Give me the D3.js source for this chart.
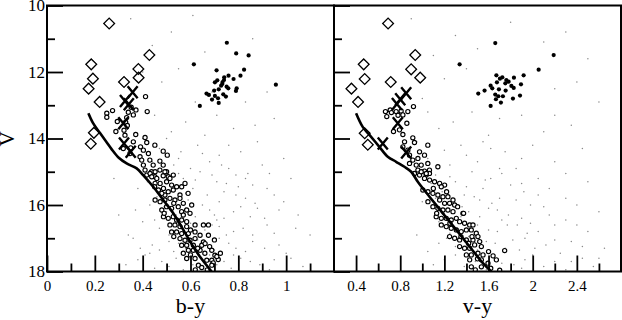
<!DOCTYPE html>
<html>
<head>
<meta charset="utf-8">
<script src="https://cdn.jsdelivr.net/npm/d3@7"></script>
<style>
  body { margin: 0; background: #fff; }
  svg { display: block; }
  text { font-family: "Liberation Serif", "DejaVu Serif", serif; fill: #000; }
</style>
</head>
<body>
<svg width="622" height="320"></svg>
<script>
// magnitude axis
var vTicks = [10, 12, 14, 16, 18];
var vMinor = [11, 13, 15, 17];
// colour axes
var byTicks = [0, 0.2, 0.4, 0.6, 0.8, 1];
var byMinor = [0.1, 0.3, 0.5, 0.7, 0.9, 1.1];
var vyTicks = [0.4, 0.8, 1.2, 1.6, 2, 2.4];
var vyMinor = [0.6, 1.0, 1.4, 1.8, 2.2, 2.6];

// field stars [colour, V]
var fieldBY = [[0.35,10.4],[0.52,10.8],[0.61,10.3],[0.44,11.2],[0.66,11.4],[0.86,11.0],[0.55,11.9],[0.48,12.3],[0.92,12.6],[0.62,12.9],
  [0.83,12.9],[0.45,13.3],[0.58,13.5],[0.71,13.3],[0.95,13.4],[0.52,13.8],[0.66,13.9],[0.78,13.7],[0.40,14.0],[0.88,14.1],
  [0.47,14.3],[0.56,14.4],[0.63,14.2],[0.72,14.5],[0.81,14.4],[0.99,14.6],[0.44,14.7],[0.53,14.8],[0.60,14.9],[0.68,14.7],
  [0.76,14.9],[0.90,14.8],[0.49,15.1],[0.57,15.2],[0.64,15.0],[0.71,15.3],[0.79,15.1],[0.86,15.4],[1.02,15.2],[0.38,15.5],
  [0.52,15.6],[0.61,15.5],[0.67,15.7],[0.74,15.6],[0.83,15.8],[0.95,15.7],[0.43,16.0],[0.50,16.2],[0.58,16.1],[0.65,16.0],
  [0.70,16.3],[0.78,16.2],[0.88,16.1],[1.05,16.3],[0.40,16.5],[0.47,16.7],[0.55,16.6],[0.62,16.8],[0.69,16.6],[0.75,16.9],
  [0.82,16.7],[0.92,16.6],[1.10,16.9],[0.36,17.0],[0.44,17.2],[0.51,17.1],[0.58,17.3],[0.66,17.2],[0.72,17.0],[0.79,17.3],
  [0.86,17.1],[0.97,17.2],[0.41,17.5],[0.48,17.7],[0.54,17.6],[0.61,17.8],[0.68,17.5],[0.74,17.7],[0.81,17.6],[0.89,17.8],
  [1.02,17.6],[0.33,17.8],[0.45,17.9],[0.57,17.95],[0.77,17.9],[0.93,17.95],[0.30,16.3],[0.28,15.2],[0.34,16.9],[0.63,17.45],
  [0.71,16.45],[0.59,15.85],[0.80,15.45],[0.53,17.4],[0.85,16.35],
  [0.42,15.3],[0.55,15.05],[0.62,15.25],[0.69,15.1],[0.75,15.35],[0.83,15.2],[0.92,15.5],[0.46,15.75],[0.58,15.65],[0.72,15.9],
  [0.79,15.7],[0.87,15.95],[0.99,15.9],[0.37,16.15],[0.54,16.3],[0.62,16.35],[0.68,16.15],[0.74,16.4],[0.81,16.05],[0.91,16.4],
  [0.97,16.15],[0.45,16.45],[0.51,16.9],[0.66,16.75],[0.72,16.65],[0.78,16.8],[0.86,16.9],[0.95,16.85],[1.04,16.7],[0.39,17.3],
  [0.47,17.35],[0.55,17.15],[0.63,17.05],[0.70,17.35],[0.76,17.15],[0.83,17.4],[0.91,17.3],[1.00,17.45],[0.38,17.65],[0.51,17.85],
  [0.58,17.55],[0.65,17.85],[0.71,17.8],[0.78,17.5],[0.85,17.7],[0.95,17.65],[1.07,17.85],[0.43,17.45],[0.49,16.05],[0.60,16.55],
  [0.84,15.05],[0.73,14.8],[0.65,14.45],[0.55,14.6],[0.93,15.05],[0.76,14.2],[0.50,14.0],[0.87,13.6],[0.69,12.6],[0.40,12.0]];
var fieldVY = [[0.9,10.4],[1.3,10.9],[1.8,10.5],[2.3,10.8],[1.1,11.5],[1.5,11.3],[2.5,11.6],[1.2,12.2],[2.2,12.5],[2.6,12.9],
  [1.0,12.8],[1.45,13.2],[1.9,13.3],[2.35,13.6],[1.15,13.7],[1.6,13.9],[2.1,13.8],[0.95,14.1],[1.35,14.2],[1.75,14.4],
  [2.45,14.3],[1.05,14.6],[1.25,14.8],[1.5,14.7],[1.85,14.9],[2.2,14.7],[1.12,15.1],[1.3,15.3],[1.45,15.0],[1.62,15.2],
  [1.8,15.4],[2.05,15.2],[2.5,15.3],[1.18,15.6],[1.38,15.7],[1.55,15.5],[1.7,15.8],[1.92,15.6],[2.3,15.8],[1.25,16.0],
  [1.42,16.2],[1.6,16.1],[1.78,16.3],[1.98,16.0],[2.15,16.3],[2.6,16.2],[1.15,16.5],[1.32,16.7],[1.5,16.6],[1.68,16.8],
  [1.86,16.6],[2.05,16.8],[2.4,16.6],[1.22,17.0],[1.4,17.2],[1.58,17.1],[1.75,17.3],[1.93,17.0],[2.12,17.2],[2.35,17.1],
  [2.65,17.3],[1.3,17.5],[1.48,17.7],[1.65,17.6],[1.83,17.8],[2.0,17.5],[2.2,17.7],[2.45,17.6],[1.1,17.8],[1.58,17.95],
  [1.9,17.9],[2.3,17.95],[2.55,17.85],[0.95,16.9],[1.0,15.9],[1.05,17.4],[1.35,16.35],[1.72,16.45],[2.25,17.45],[1.62,14.3],
  [2.0,14.2],[1.28,13.5],[1.88,17.35],[1.52,15.85],
  [1.08,15.35],[1.25,15.15],[1.4,15.45],[1.57,15.25],[1.72,15.05],[1.9,15.35],[2.15,15.5],[1.12,15.8],[1.3,15.95],[1.47,15.75],
  [1.63,15.95],[1.85,15.85],[2.05,15.7],[2.4,16.0],[1.2,16.25],[1.36,16.05],[1.52,16.35],[1.68,16.15],[1.9,16.4],[2.1,16.05],
  [2.3,16.45],[1.25,16.85],[1.44,16.55],[1.6,16.75],[1.77,16.6],[1.95,16.85],[2.2,16.6],[2.5,16.8],[1.3,17.25],[1.5,17.35],
  [1.66,17.15],[1.82,17.05],[2.02,17.3],[2.2,17.05],[2.45,17.25],[1.2,17.65],[1.38,17.85],[1.55,17.5],[1.72,17.75],[1.93,17.65],
  [2.1,17.85],[2.35,17.7],[2.6,17.6],[1.15,17.15],[1.42,16.95],[1.98,16.55],[1.7,14.9],[1.4,14.5],[1.9,14.6],[2.3,15.05],
  [1.2,14.35],[1.55,14.1],[2.2,13.3],[1.7,13.4],[1.05,13.2],[2.4,12.3],[1.4,11.9],[2.1,11.1]];

// cluster main sequence (open circles)
var msBY = [[0.412,12.74],[0.274,13.16],[0.352,13.06],[0.372,13.14],[0.419,13.19],[0.340,13.21],[0.361,13.29],[0.333,13.37],
  [0.294,13.49],[0.329,13.51],[0.336,13.61],[0.288,13.79],[0.322,13.75],[0.326,13.90],[0.371,13.88],[0.410,13.97],[0.417,14.12],
  [0.361,14.10],[0.451,14.20],[0.391,14.25],[0.350,14.28],[0.319,14.30],[0.347,14.45],[0.403,14.35],[0.424,14.45],[0.486,14.38],
  [0.503,14.50],[0.389,14.55],[0.396,14.65],[0.430,14.65],[0.472,14.68],[0.403,14.80],[0.444,14.80],[0.486,14.80],[0.410,14.95],
  [0.437,15.00],[0.472,14.95],[0.500,15.00],[0.417,15.10],[0.451,15.15],[0.486,15.12],[0.507,15.15],[0.250,13.24],[0.250,13.36],
  [0.431,15.05],[0.452,15.00],[0.493,15.00],[0.438,15.15],[0.459,15.20],[0.514,15.20],[0.528,15.10],
  [0.452,15.35],[0.473,15.35],[0.500,15.30],[0.521,15.40],[0.542,15.45],[0.563,15.45],[0.577,15.35],[0.466,15.55],[0.487,15.50],
  [0.507,15.60],[0.528,15.55],[0.556,15.70],[0.493,15.70],[0.452,15.85],[0.473,15.90],[0.493,15.85],[0.514,15.80],[0.535,15.85],
  [0.556,15.80],[0.570,15.95],[0.605,16.00],[0.480,16.15],[0.500,16.05],[0.521,16.10],[0.549,16.05],[0.563,16.20],[0.584,16.15],
  [0.598,16.25],[0.487,16.35],[0.507,16.40],[0.528,16.35],[0.542,16.45],[0.563,16.45],[0.584,16.50],[0.514,16.60],[0.535,16.60],
  [0.556,16.65],[0.584,16.65],[0.619,16.60],[0.654,16.60],[0.675,16.60],[0.521,16.81],[0.542,16.81],[0.563,16.86],[0.591,16.86],
  [0.619,16.81],[0.640,16.91],[0.675,16.91],[0.556,17.01],[0.577,17.06],[0.598,17.06],[0.619,17.01],[0.654,17.11],[0.563,17.21],
  [0.584,17.21],[0.612,17.21],[0.647,17.21],[0.661,17.16],[0.591,17.36],[0.612,17.36],[0.640,17.36],[0.689,17.36],[0.702,17.51],
  [0.584,17.61],[0.619,17.61],[0.668,17.66],[0.689,17.66],[0.716,17.64],[0.695,17.74],[0.633,17.81],[0.647,17.88],[0.689,17.81],
  [0.725,17.45],[0.710,17.55],[0.60,17.50],[0.66,17.45],
  [0.45,15.45],[0.48,15.65],[0.53,15.95],[0.59,15.65],[0.49,16.25],[0.57,16.30],[0.60,16.75],[0.53,16.95],[0.63,17.30],[0.57,17.45],
  [0.68,17.25],[0.70,17.05],[0.62,17.95],[0.67,17.95]];
var msVY = [[0.920,13.04],[0.666,13.19],[0.709,13.14],[0.678,13.34],[0.763,13.19],[0.808,13.17],[0.869,13.19],[0.824,13.29],
  [0.860,13.54],[0.739,13.79],[0.793,13.74],[0.824,13.88],[0.914,13.98],[0.929,14.12],[0.839,14.10],[1.050,14.20],[0.824,14.25],
  [0.869,14.35],[0.975,14.40],[1.020,14.50],[0.884,14.50],[0.914,14.65],[0.960,14.60],[0.884,14.75],[0.945,14.80],[0.990,14.80],
  [1.050,14.75],[1.141,14.85],[0.960,14.95],[1.020,14.98],[1.065,14.95],[0.929,15.05],[0.975,15.10],[1.035,15.10],[1.065,15.05],
  [0.990,15.00],[1.036,15.05],[1.020,15.20],[1.066,15.25],[1.111,15.30],[1.157,15.35],[1.202,15.40],[1.172,15.45],[1.005,15.55],
  [1.051,15.60],[1.096,15.65],[1.141,15.70],[1.187,15.75],[1.232,15.75],[1.278,15.85],[1.157,15.85],[1.202,15.95],[1.247,15.95],
  [1.293,16.00],[1.051,15.90],[1.096,16.05],[1.141,16.10],[1.187,16.15],[1.232,16.15],[1.278,16.20],[1.368,16.25],[1.126,16.35],
  [1.172,16.40],[1.217,16.40],[1.262,16.45],[1.308,16.40],[1.338,16.50],[1.383,16.55],[1.429,16.60],[1.459,16.60],[1.172,16.60],
  [1.217,16.65],[1.262,16.70],[1.308,16.75],[1.353,16.80],[1.399,16.75],[1.444,16.75],[1.489,16.85],[1.504,16.95],[1.247,16.95],
  [1.293,17.00],[1.338,17.05],[1.399,17.05],[1.459,17.05],[1.520,17.10],[1.338,17.25],[1.383,17.30],[1.429,17.30],[1.474,17.20],
  [1.535,17.25],[1.399,17.50],[1.444,17.50],[1.504,17.45],[1.550,17.50],[1.641,17.53],[1.671,17.65],[1.746,17.37],[1.429,17.65],
  [1.535,17.65],[1.595,17.75],[1.444,17.86],[1.535,17.86],[1.701,17.96],[1.374,16.25],[0.72,13.22],[0.78,13.30],
  [1.10,15.50],[1.22,15.60],[1.13,16.25],[1.32,16.05],[1.25,16.55],[1.35,16.95],[1.45,16.95],[1.42,17.15],[1.50,17.62],[1.60,17.40],
  [1.48,17.95],[1.62,17.90]];

// blue stragglers (diamonds)
var bsBY = [[0.260,10.54],[0.428,11.49],[0.185,11.77],[0.382,11.91],[0.192,12.20],[0.383,12.17],[0.322,12.30],[0.174,12.50],
  [0.220,12.90],[0.196,13.83],[0.183,14.16]];
var bsVY = [[0.690,10.54],[0.936,11.49],[0.469,11.77],[0.899,11.92],[0.478,12.21],[0.981,12.17],[0.714,12.30],[0.358,12.50],
  [0.418,12.90],[0.478,13.84],[0.506,14.19]];

// crosses
var crossBY = [[0.358,12.61],[0.326,12.87],[0.342,12.97],[0.319,13.54],[0.322,14.15],[0.350,14.40]];
var crossVY = [[0.854,12.64],[0.800,12.82],[0.770,12.96],[0.778,13.54],[0.642,14.15],[0.854,14.42]];

// red clump giants (filled dots)
var clumpBY = [[0.752,11.12],[0.791,11.44],[0.843,11.50],[0.614,11.77],[0.824,11.93],[0.709,11.95],[0.809,12.11],[0.759,12.11],
  [0.741,12.16],[0.780,12.21],[0.712,12.25],[0.702,12.31],[0.734,12.30],[0.957,12.38],[0.751,12.44],[0.793,12.49],[0.718,12.52],
  [0.699,12.56],[0.758,12.49],[0.790,12.57],[0.667,12.65],[0.677,12.69],[0.702,12.72],[0.737,12.67],[0.748,12.74],[0.690,12.83],
  [0.715,12.79],[0.718,12.93],[0.639,13.02],[0.733,12.36],[0.740,12.24],[0.728,12.41]];
var clumpVY = [[1.661,11.13],[2.190,11.49],[2.054,11.93],[1.338,11.77],[1.918,12.10],[1.671,12.10],[1.725,12.16],[1.830,12.17],
  [1.761,12.24],[1.703,12.20],[1.676,12.31],[1.782,12.29],[1.894,12.37],[1.619,12.41],[1.634,12.49],[1.752,12.34],[1.807,12.42],
  [1.828,12.48],[1.694,12.52],[1.755,12.56],[1.564,12.56],[1.507,12.65],[1.661,12.68],[1.689,12.73],[1.730,12.73],[1.885,12.71],
  [1.821,12.80],[1.667,12.82],[1.712,12.92],[1.619,13.02]];

// isochrones
var isoBY = [[0.173,13.24],[0.192,13.53],[0.221,13.83],[0.250,14.12],[0.270,14.32],[0.300,14.58],[0.333,14.75],[0.375,14.90],
  [0.402,15.10],[0.444,15.45],[0.486,15.85],[0.528,16.25],[0.570,16.75],[0.611,17.25],[0.639,17.55],[0.688,18.00]];
var isoVY = [[0.400,13.24],[0.460,13.65],[0.521,13.89],[0.611,14.25],[0.687,14.55],[0.763,14.70],[0.838,14.85],[0.899,15.00],
  [0.959,15.30],[1.065,15.75],[1.186,16.25],[1.308,16.75],[1.428,17.25],[1.549,17.75],[1.625,18.00]];

var svg = d3.select("svg");
var plotTop = 5.5, plotBottom = 271.5;
var y = d3.scaleLinear().domain([10, 18]).range([plotTop, plotBottom]);

var panels = [
  { id: "by", x: d3.scaleLinear().domain([0, 1.2]).range([47, 334]), ticks: byTicks, minor: byMinor,
    field: fieldBY, ms: msBY, bs: bsBY, cross: crossBY, clump: clumpBY, iso: isoBY, title: "b-y", labels: true },
  { id: "vy", x: d3.scaleLinear().domain([0.2, 2.8]).range([334, 621]), ticks: vyTicks, minor: vyMinor,
    field: fieldVY, ms: msVY, bs: bsVY, cross: crossVY, clump: clumpVY, iso: isoVY, title: "v-y", labels: false }
];

var fmt = function(d) { return String(+d.toFixed(1)); };
var diamond = d3.symbol().type(d3.symbolSquare).size(58);

panels.forEach(function(p) {
  var x = p.x;
  var x0 = x.range()[0], x1 = x.range()[1];

  svg.append("clipPath").attr("id", "clip-" + p.id)
    .append("rect").attr("x", x0).attr("y", plotTop).attr("width", x1 - x0).attr("height", plotBottom - plotTop);

  var g = svg.append("g").attr("clip-path", "url(#clip-" + p.id + ")");

  // field stars
  g.selectAll(".field").data(p.field).enter().append("circle")
    .attr("cx", function(d) { return x(d[0]); })
    .attr("cy", function(d) { return y(d[1]); })
    .attr("r", 0.75)
    .attr("fill", "#8a8a8a");

  // main sequence members
  g.selectAll(".ms").data(p.ms).enter().append("circle")
    .attr("cx", function(d) { return x(d[0]); })
    .attr("cy", function(d) { return y(d[1]); })
    .attr("r", 2.1)
    .attr("fill", "#fff")
    .attr("stroke", "#000")
    .attr("stroke-width", 1.15);

  // isochrone
  g.append("path").datum(p.iso)
    .attr("fill", "none")
    .attr("stroke", "#000")
    .attr("stroke-width", 2.6)
    .attr("d", d3.line().curve(d3.curveCatmullRom)
      .x(function(d) { return x(d[0]); })
      .y(function(d) { return y(d[1]); }));

  // blue stragglers
  g.selectAll(".bs").data(p.bs).enter().append("path")
    .attr("d", diamond)
    .attr("transform", function(d) { return "translate(" + x(d[0]) + "," + y(d[1]) + ") rotate(45)"; })
    .attr("fill", "none")
    .attr("stroke", "#000")
    .attr("stroke-width", 1.3);

  // crosses
  g.selectAll(".cross").data(p.cross).enter().append("path")
    .attr("d", "M-5,-6L5,6M-5,6L5,-6")
    .attr("transform", function(d) { return "translate(" + x(d[0]) + "," + y(d[1]) + ")"; })
    .attr("stroke", "#000")
    .attr("stroke-width", 2.4);

  // red clump
  g.selectAll(".clump").data(p.clump).enter().append("circle")
    .attr("cx", function(d) { return x(d[0]); })
    .attr("cy", function(d) { return y(d[1]); })
    .attr("r", 2.1)
    .attr("fill", "#000");

  // x axis, ticks pointing inward
  var ax = svg.append("g").attr("transform", "translate(0," + plotBottom + ")");
  ax.append("g").call(d3.axisBottom(x).tickValues(p.ticks).tickSize(-16).tickPadding(9).tickFormat(fmt));
  ax.append("g").call(d3.axisBottom(x).tickValues(p.minor).tickSize(-8).tickFormat(""));
  ax.selectAll(".domain").remove();
  ax.selectAll("line").attr("stroke-width", 1.8);
  ax.selectAll("text").attr("font-size", 15).style("font-family", "Liberation Serif, serif");

  // y axis on the left of each panel
  var ay = svg.append("g").attr("transform", "translate(" + x0 + ",0)");
  ay.append("g").call(d3.axisLeft(y).tickValues(vTicks).tickSize(-16).tickPadding(2)
    .tickFormat(p.labels ? d3.format("d") : ""));
  ay.append("g").call(d3.axisLeft(y).tickValues(vMinor).tickSize(-8).tickFormat(""));
  ay.selectAll(".domain").remove();
  ay.selectAll("line").attr("stroke-width", 1.8);
  ay.selectAll("text").attr("font-size", 17).style("font-family", "Liberation Serif, serif");

  // frame
  svg.append("rect")
    .attr("x", x0).attr("y", plotTop)
    .attr("width", x1 - x0).attr("height", plotBottom - plotTop)
    .attr("fill", "none")
    .attr("stroke", "#000")
    .attr("stroke-width", 2);

  svg.append("text")
    .attr("x", (x0 + x1) / 2)
    .attr("y", 313)
    .attr("text-anchor", "middle")
    .attr("font-size", 22)
    .text(p.title);
});

svg.append("text")
  .attr("transform", "translate(14,139) rotate(-90)")
  .attr("text-anchor", "middle")
  .attr("font-size", 21)
  .text("V");
</script>
</body>
</html>
